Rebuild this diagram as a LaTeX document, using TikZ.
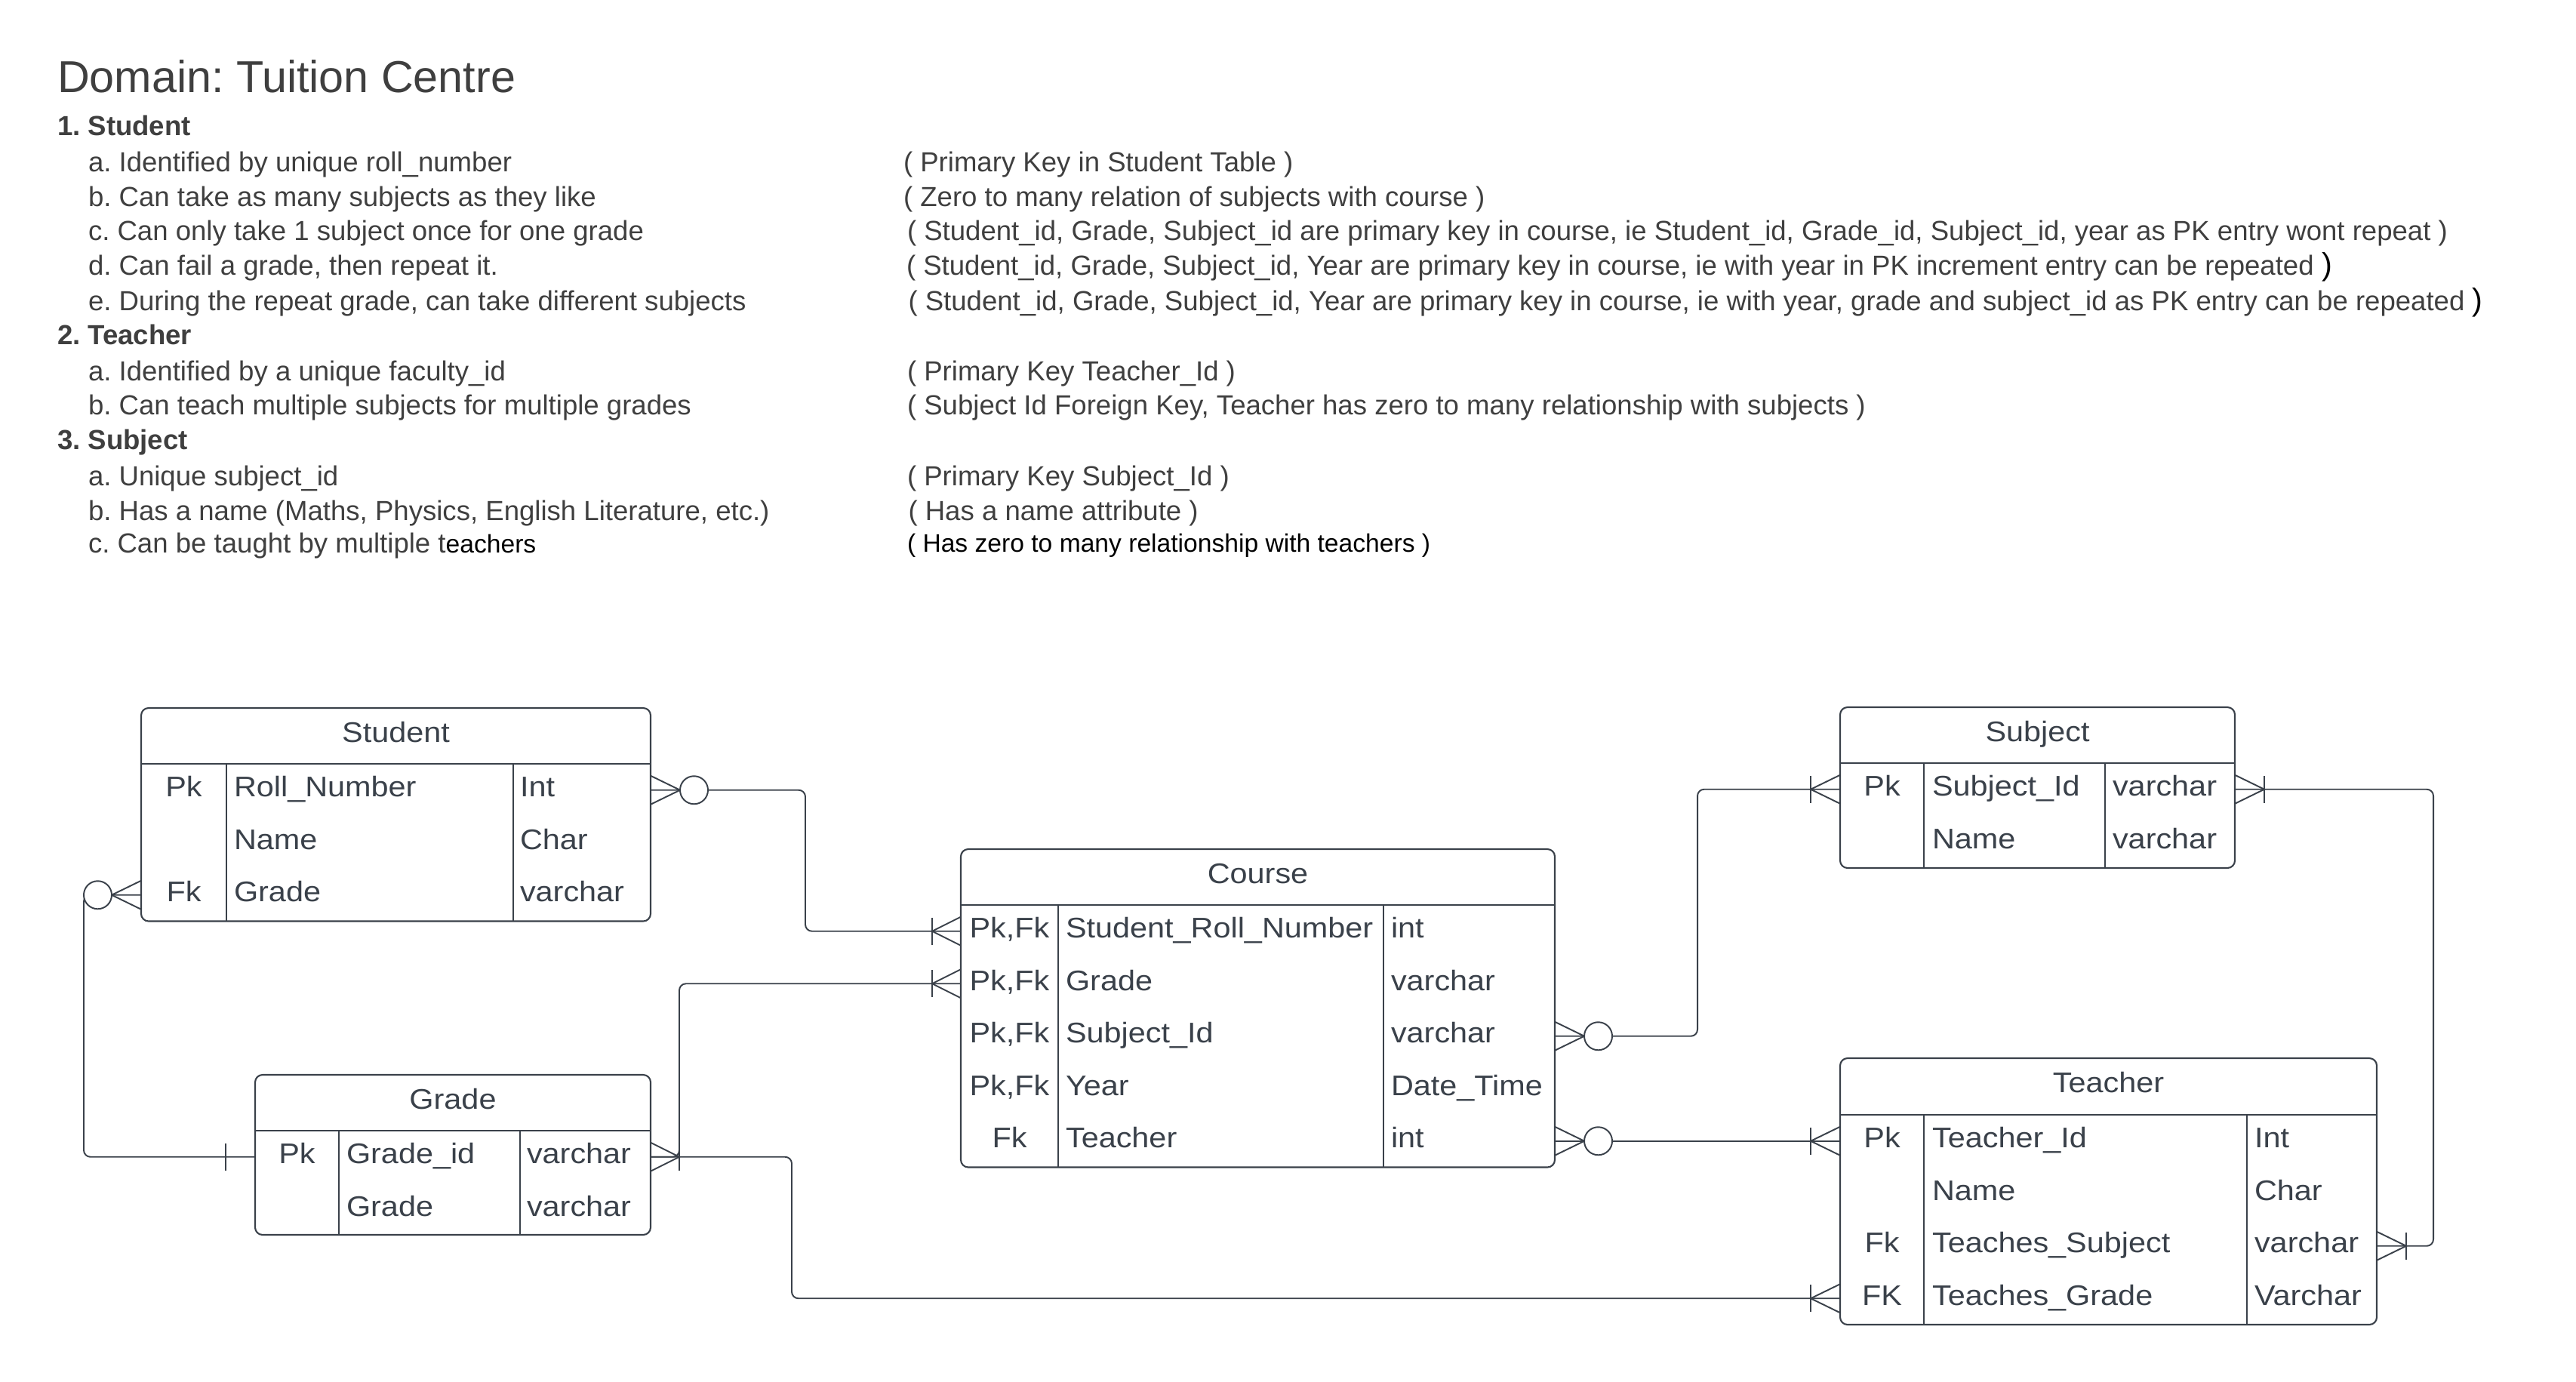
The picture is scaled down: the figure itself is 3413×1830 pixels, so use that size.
\documentclass[tikz,border=0pt]{standalone}
\usepackage{fontspec}
\setmainfont{Liberation Sans}
\newfontfamily\tblfont[FakeStretch=1.1]{Liberation Sans}
\usepackage{tikz}
\definecolor{notegray}{HTML}{3F3F3F}
\definecolor{ergray}{HTML}{3A414A}
\frenchspacing

\begin{document}
\begin{tikzpicture}[x=0.01cm, y=-0.01cm, every node/.style={inner sep=0pt, outer sep=0pt},
        note/.style={anchor=base west, text=notegray, font=\fontsize{10.4}{12}\selectfont},
        head/.style={anchor=base west, text=notegray, font=\fontsize{10.4}{12}\selectfont\bfseries},
        cell/.style={anchor=base west, text=ergray, font=\tblfont\fontsize{10.7}{12}\selectfont},
        key/.style={cell, anchor=base},
        tbl/.style={draw=ergray, line width=0.6pt, rounded corners=2.8pt},
        tline/.style={draw=ergray, line width=0.55pt},
        conn/.style={draw=ergray, line width=0.55pt, rounded corners=2.5pt},
        foot/.style={draw=ergray, line width=0.55pt},
        zero/.style={draw=ergray, line width=0.55pt, fill=white}]
            \useasboundingbox (0,0) rectangle (3413,1830);
            \node[note, font=\fontsize{16.85}{20}\selectfont] (ttl) at (76,122.6) {Domain: Tuition Centre};
            \node[head] (n1) at (76,179) {1. Student};
            \node[note] (n1a) at (117,227.5) {a. Identified by unique roll\_number};
            \node[note] (n1b) at (117,273) {b. Can take as many subjects as they like};
            \node[note] (n1c) at (117,318) {c. Can only take 1 subject once for one grade};
            \node[note] (n1d) at (117,364) {d. Can fail a grade, then repeat it.};
            \node[note] (n1e) at (117,411) {e. During the repeat grade, can take different subjects};
            \node[head] (n2) at (76,456) {2. Teacher};
            \node[note] (n2a) at (117,504) {a. Identified by a unique faculty\_id};
            \node[note] (n2b) at (117,549) {b. Can teach multiple subjects for multiple grades};
            \node[head] (n3) at (76,595) {3. Subject};
            \node[note] (n3a) at (117,643) {a. Unique subject\_id};
            \node[note] (n3b) at (117,689) {b. Has a name (Maths, Physics, English Literature, etc.)};
            \node[note] (n3c) at (117,732.5) {c. Can be taught by multiple t{\color{black}\fontsize{9.56}{11}\selectfont eachers}};
            \node[note] (r1a) at (1197,227.5) {( Primary Key in Student Table )};
            \node[note] (r1b) at (1197,273) {( Zero to many relation of subjects with course )};
            \node[note] (r1c) at (1202,318) {( Student\_id, Grade, Subject\_id are primary key in course, ie Student\_id, Grade\_id, Subject\_id, year as PK entry wont repeat )};
            \node[note] (r1d) at (1201,364) {( Student\_id, Grade, Subject\_id, Year are primary key in course, ie with year in PK increment entry can be repeated {\color{black}\fontsize{11.8}{12}\selectfont )}};
            \node[note] (r1e) at (1203.5,411) {( Student\_id, Grade, Subject\_id, Year are primary key in course, ie with year, grade and subject\_id as PK entry can be repeated {\color{black}\fontsize{11.8}{12}\selectfont )}};
            \node[note] (r2a) at (1202,504) {( Primary Key Teacher\_Id )};
            \node[note] (r2b) at (1202,549) {( Subject Id Foreign Key, Teacher has zero to many relationship with subjects )};
            \node[note] (r3a) at (1202,643) {( Primary Key Subject\_Id )};
            \node[note] (r3b) at (1203.5,689) {( Has a name attribute )};
            \node[note, text=black, font=\fontsize{9.56}{11}\selectfont] (r3c) at (1202,731.5) {( Has zero to many relationship with teachers )};

            \draw[tbl] (187,938) rectangle (862,1220.5);
            \draw[tline] (187,1012) -- (862,1012);
            \draw[tline] (300,1012) -- (300,1220.5);
            \draw[tline] (680,1012) -- (680,1220.5);
            \node[key] (stu-h) at (524.5,983) {Student};
            \node[key] (stu-k1) at (243.5,1055.75) {Pk};
            \node[cell] (stu-f1) at (310,1055.75) {Roll\_Number};
            \node[cell] (stu-t1) at (689,1055.75) {Int};
            \node[cell] (stu-f2) at (310,1125.25) {Name};
            \node[cell] (stu-t2) at (689,1125.25) {Char};
            \node[key] (stu-k3) at (243.5,1194.75) {Fk};
            \node[cell] (stu-f3) at (310,1194.75) {Grade};
            \node[cell] (stu-t3) at (689,1194.75) {varchar};

            \draw[tbl] (338,1424) rectangle (862,1636);
            \draw[tline] (338,1498) -- (862,1498);
            \draw[tline] (449,1498) -- (449,1636);
            \draw[tline] (689,1498) -- (689,1636);
            \node[key] (gra-h) at (600,1469) {Grade};
            \node[key] (gra-k1) at (393.5,1541.75) {Pk};
            \node[cell] (gra-f1) at (459,1541.75) {Grade\_id};
            \node[cell] (gra-t1) at (698,1541.75) {varchar};
            \node[cell] (gra-f2) at (459,1611.25) {Grade};
            \node[cell] (gra-t2) at (698,1611.25) {varchar};

            \draw[tbl] (1273,1125) rectangle (2060,1546.5);
            \draw[tline] (1273,1199) -- (2060,1199);
            \draw[tline] (1402,1199) -- (1402,1546.5);
            \draw[tline] (1833,1199) -- (1833,1546.5);
            \node[key] (cou-h) at (1666.5,1170) {Course};
            \node[key] (cou-k1) at (1337.5,1242.75) {Pk,Fk};
            \node[cell] (cou-f1) at (1412,1242.75) {Student\_Roll\_Number};
            \node[cell] (cou-t1) at (1843,1242.75) {int};
            \node[key] (cou-k2) at (1337.5,1312.25) {Pk,Fk};
            \node[cell] (cou-f2) at (1412,1312.25) {Grade};
            \node[cell] (cou-t2) at (1843,1312.25) {varchar};
            \node[key] (cou-k3) at (1337.5,1381.75) {Pk,Fk};
            \node[cell] (cou-f3) at (1412,1381.75) {Subject\_Id};
            \node[cell] (cou-t3) at (1843,1381.75) {varchar};
            \node[key] (cou-k4) at (1337.5,1451.25) {Pk,Fk};
            \node[cell] (cou-f4) at (1412,1451.25) {Year};
            \node[cell] (cou-t4) at (1843,1451.25) {Date\_Time};
            \node[key] (cou-k5) at (1337.5,1520.75) {Fk};
            \node[cell] (cou-f5) at (1412,1520.75) {Teacher};
            \node[cell] (cou-t5) at (1843,1520.75) {int};

            \draw[tbl] (2438,937) rectangle (2961,1150);
            \draw[tline] (2438,1011) -- (2961,1011);
            \draw[tline] (2549,1011) -- (2549,1150);
            \draw[tline] (2789,1011) -- (2789,1150);
            \node[key] (sub-h) at (2699.5,982) {Subject};
            \node[key] (sub-k1) at (2493.5,1054.75) {Pk};
            \node[cell] (sub-f1) at (2560,1054.75) {Subject\_Id};
            \node[cell] (sub-t1) at (2799,1054.75) {varchar};
            \node[cell] (sub-f2) at (2560,1124.25) {Name};
            \node[cell] (sub-t2) at (2799,1124.25) {varchar};

            \draw[tbl] (2438,1402) rectangle (3149,1755);
            \draw[tline] (2438,1477) -- (3149,1477);
            \draw[tline] (2549,1477) -- (2549,1755);
            \draw[tline] (2977,1477) -- (2977,1755);
            \node[key] (tea-h) at (2793.5,1447) {Teacher};
            \node[key] (tea-k1) at (2493.5,1520.75) {Pk};
            \node[cell] (tea-f1) at (2560,1520.75) {Teacher\_Id};
            \node[cell] (tea-t1) at (2987,1520.75) {Int};
            \node[cell] (tea-f2) at (2560,1590.25) {Name};
            \node[cell] (tea-t2) at (2987,1590.25) {Char};
            \node[key] (tea-k3) at (2493.5,1659.75) {Fk};
            \node[cell] (tea-f3) at (2560,1659.75) {Teaches\_Subject};
            \node[cell] (tea-t3) at (2987,1659.75) {varchar};
            \node[key] (tea-k4) at (2493.5,1729.25) {FK};
            \node[cell] (tea-f4) at (2560,1729.25) {Teaches\_Grade};
            \node[cell] (tea-t4) at (2987,1729.25) {Varchar};

            \coordinate (stu-pk-e) at (862,1046.75);
            \coordinate (stu-r3-w) at (187,1185.75);
            \coordinate (gra-r1-w) at (338,1532.75);
            \coordinate (gra-r1-e) at (862,1532.75);
            \coordinate (cou-r1-w) at (1273,1233.75);
            \coordinate (cou-r2-w) at (1273,1303.25);
            \coordinate (cou-r3-e) at (2060,1372.75);
            \coordinate (cou-r5-e) at (2060,1511.75);
            \coordinate (sub-r1-w) at (2438,1045.75);
            \coordinate (sub-r1-e) at (2961,1045.75);
            \coordinate (tea-r1-w) at (2438,1511.75);
            \coordinate (tea-r3-e) at (3149,1650.75);
            \coordinate (tea-r4-w) at (2438,1720.25);

            \draw[conn] (stu-pk-e) -- ++(205,0) |- (cou-r1-w);
            \draw[conn] (stu-r3-w) -- ++(-76,0) |- (gra-r1-w);
            \draw[conn] (gra-r1-e) -- ++(38,0) |- (cou-r2-w);
            \draw[conn] (gra-r1-e) -- ++(187,0) |- (tea-r4-w);
            \draw[conn] (cou-r3-e) -- ++(189,0) |- (sub-r1-w);
            \draw[conn] (cou-r5-e) -- (tea-r1-w);
            \draw[conn] (sub-r1-e) -- ++(263,0) |- (tea-r3-e);

            \draw[foot] (stu-pk-e) ++(0,-19) -- ++(39,19) -- ++(-39,19);
            \draw[zero] (stu-pk-e) ++(57.5,0) circle[radius=0.185cm];
            \draw[foot] (stu-r3-w) ++(0,-19) -- ++(-39,19) -- ++(39,19);
            \draw[zero] (stu-r3-w) ++(-57.5,0) circle[radius=0.185cm];
            \draw[foot] (gra-r1-w) ++(-39,-18) -- ++(0,36);
            \draw[foot] (gra-r1-e) ++(0,-19) -- ++(38,19) -- ++(-38,19);
            \draw[foot] (gra-r1-e) ++(38,-18) -- ++(0,36);
            \draw[foot] (cou-r1-w) ++(0,-19) -- ++(-38,19) -- ++(38,19);
            \draw[foot] (cou-r1-w) ++(-38,-18) -- ++(0,36);
            \draw[foot] (cou-r2-w) ++(0,-19) -- ++(-38,19) -- ++(38,19);
            \draw[foot] (cou-r2-w) ++(-38,-18) -- ++(0,36);
            \draw[foot] (cou-r3-e) ++(0,-19) -- ++(39,19) -- ++(-39,19);
            \draw[zero] (cou-r3-e) ++(57.5,0) circle[radius=0.185cm];
            \draw[foot] (cou-r5-e) ++(0,-19) -- ++(39,19) -- ++(-39,19);
            \draw[zero] (cou-r5-e) ++(57.5,0) circle[radius=0.185cm];
            \draw[foot] (sub-r1-w) ++(0,-19) -- ++(-39,19) -- ++(39,19);
            \draw[foot] (sub-r1-w) ++(-39,-18) -- ++(0,36);
            \draw[foot] (sub-r1-e) ++(0,-19) -- ++(39,19) -- ++(-39,19);
            \draw[foot] (sub-r1-e) ++(39,-18) -- ++(0,36);
            \draw[foot] (tea-r1-w) ++(0,-19) -- ++(-39,19) -- ++(39,19);
            \draw[foot] (tea-r1-w) ++(-39,-18) -- ++(0,36);
            \draw[foot] (tea-r3-e) ++(0,-19) -- ++(39,19) -- ++(-39,19);
            \draw[foot] (tea-r3-e) ++(39,-18) -- ++(0,36);
            \draw[foot] (tea-r4-w) ++(0,-19) -- ++(-39,19) -- ++(39,19);
            \draw[foot] (tea-r4-w) ++(-39,-18) -- ++(0,36);
        \end{tikzpicture}
\end{document}
